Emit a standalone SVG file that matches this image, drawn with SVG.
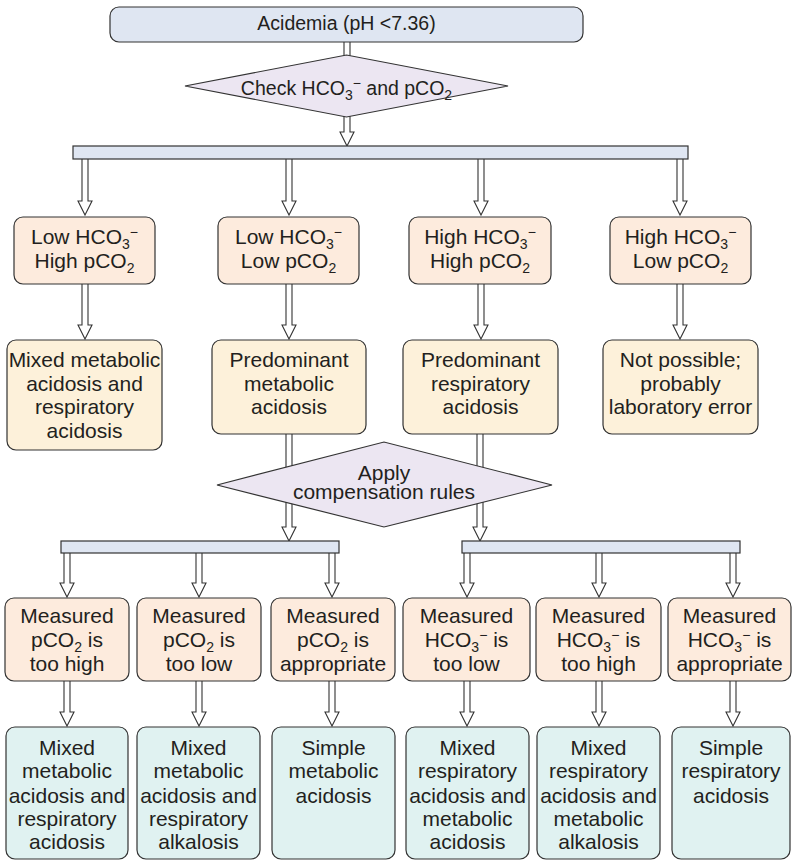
<svg xmlns="http://www.w3.org/2000/svg" width="792" height="861" viewBox="0 0 792 861">
<style>
text{font-family:"Liberation Sans",Arial,sans-serif;font-size:21px;fill:#231f20;text-anchor:middle}
.t19{font-size:19.5px}
.s{font-size:14px}
.bar{fill:#dfe6f2;stroke:#333;stroke-width:1.2}
.dia{fill:#ece6f2;stroke:#333;stroke-width:1.2}
.pe{fill:#fdebdd;stroke:#333;stroke-width:1.2}
.ye{fill:#fdf1da;stroke:#333;stroke-width:1.2}
.cy{fill:#e0f2f1;stroke:#333;stroke-width:1.2}
.ar{fill:#fff;stroke:#333;stroke-width:1.1}
</style>
<g id="connectors">
<path class="ar" d="M344,42V75H350V42"/>
<path class="ar" d="M344,105V132H340L347,146L354,132H350V105"/>
<path class="ar" d="M82,159V201H78L85,215L92,201H88V159"/>
<path class="ar" d="M286,159V201H282L289,215L296,201H292V159"/>
<path class="ar" d="M478,159V201H474L481,215L488,201H484V159"/>
<path class="ar" d="M677,159V201H673L680,215L687,201H683V159"/>
<path class="ar" d="M82,284V325H78L85,339L92,325H88V284"/>
<path class="ar" d="M286,284V325H282L289,339L296,325H292V284"/>
<path class="ar" d="M478,284V325H474L481,339L488,325H484V284"/>
<path class="ar" d="M677,284V325H673L680,339L687,325H683V284"/>
<path class="ar" d="M286,434V527H282L289,541L296,527H292V434"/>
<path class="ar" d="M477,434V527H473L480,541L487,527H483V434"/>
<path class="ar" d="M64,553V583H60L67,597L74,583H70V553"/>
<path class="ar" d="M196,553V583H192L199,597L206,583H202V553"/>
<path class="ar" d="M329,553V583H325L332,597L339,583H335V553"/>
<path class="ar" d="M464,553V583H460L467,597L474,583H470V553"/>
<path class="ar" d="M596,553V583H592L599,597L606,583H602V553"/>
<path class="ar" d="M730,553V583H726L733,597L740,583H736V553"/>
<path class="ar" d="M64,681V712H60L67,726L74,712H70V681"/>
<path class="ar" d="M196,681V712H192L199,726L206,712H202V681"/>
<path class="ar" d="M329,681V712H325L332,726L339,712H335V681"/>
<path class="ar" d="M464,681V712H460L467,726L474,712H470V681"/>
<path class="ar" d="M596,681V712H592L599,726L606,712H602V681"/>
<path class="ar" d="M730,681V712H726L733,726L740,712H736V681"/>
</g>
<g id="acidemia"><rect class="bar" x="110" y="7" width="473" height="35" rx="9"/><text class="t19" x="346.5" y="30">Acidemia (pH &lt;7.36)</text></g>
<g id="check"><polygon class="dia" points="185,86 346.5,55 508,86 346.5,117"/><text class="t19" x="346.5" y="95">Check HCO<tspan class="s" dy="5">3</tspan><tspan class="s" dy="-12">−</tspan><tspan dy="7"> and pCO</tspan><tspan class="s" dy="5">2</tspan></text></g>
<g id="bar1"><rect class="bar" x="73" y="146" width="615" height="13"/></g>
<g id="lowlow-hi"><rect class="pe" x="14" y="217" width="141" height="67" rx="9"/><text x="84.5" y="244">Low HCO<tspan class="s" dy="5">3</tspan><tspan class="s" dy="-12">−</tspan></text><text x="84.5" y="268">High pCO<tspan class="s" dy="5">2</tspan></text></g>
<g id="low-low"><rect class="pe" x="218" y="217" width="141" height="67" rx="9"/><text x="288.5" y="244">Low HCO<tspan class="s" dy="5">3</tspan><tspan class="s" dy="-12">−</tspan></text><text x="288.5" y="268">Low pCO<tspan class="s" dy="5">2</tspan></text></g>
<g id="high-high"><rect class="pe" x="409" y="217" width="142" height="67" rx="9"/><text x="480" y="244">High HCO<tspan class="s" dy="5">3</tspan><tspan class="s" dy="-12">−</tspan></text><text x="480" y="268">High pCO<tspan class="s" dy="5">2</tspan></text></g>
<g id="high-low"><rect class="pe" x="610" y="217" width="141" height="67" rx="9"/><text x="680.5" y="244">High HCO<tspan class="s" dy="5">3</tspan><tspan class="s" dy="-12">−</tspan></text><text x="680.5" y="268">Low pCO<tspan class="s" dy="5">2</tspan></text></g>
<g id="mixed1"><rect class="ye" x="7" y="340" width="155" height="110" rx="9"/><text x="84.5" y="367">Mixed metabolic</text><text x="84.5" y="391">acidosis and</text><text x="84.5" y="414">respiratory</text><text x="84.5" y="438">acidosis</text></g>
<g id="predmet"><rect class="ye" x="212" y="340" width="154" height="94" rx="9"/><text x="289" y="367">Predominant</text><text x="289" y="391">metabolic</text><text x="289" y="414">acidosis</text></g>
<g id="predresp"><rect class="ye" x="403" y="340" width="155" height="94" rx="9"/><text x="480.5" y="367">Predominant</text><text x="480.5" y="391">respiratory</text><text x="480.5" y="414">acidosis</text></g>
<g id="notpossible"><rect class="ye" x="603" y="340" width="155" height="94" rx="9"/><text x="680.5" y="367">Not possible;</text><text x="680.5" y="391">probably</text><text x="680.5" y="414">laboratory error</text></g>
<g id="apply"><polygon class="dia" points="217,485 384,442 552,485 384,527"/><text x="384" y="480">Apply</text><text x="384" y="499">compensation rules</text></g>
<g id="bar2"><rect class="bar" x="61" y="541" width="278" height="12"/></g>
<g id="bar3"><rect class="bar" x="462" y="541" width="278" height="12"/></g>
<g id="p-high"><rect class="pe" x="5" y="598" width="124" height="83" rx="9"/><text x="67" y="623">Measured</text><text x="67" y="647">pCO<tspan class="s" dy="5">2</tspan><tspan dy="-5"> is</tspan></text><text x="67" y="671">too high</text></g>
<g id="p-low"><rect class="pe" x="137" y="598" width="124" height="83" rx="9"/><text x="199" y="623">Measured</text><text x="199" y="647">pCO<tspan class="s" dy="5">2</tspan><tspan dy="-5"> is</tspan></text><text x="199" y="671">too low</text></g>
<g id="p-ok"><rect class="pe" x="271" y="598" width="124" height="83" rx="9"/><text x="333" y="623">Measured</text><text x="333" y="647">pCO<tspan class="s" dy="5">2</tspan><tspan dy="-5"> is</tspan></text><text x="333" y="671">appropriate</text></g>
<g id="h-low"><rect class="pe" x="403" y="598" width="127" height="83" rx="9"/><text x="466.5" y="623">Measured</text><text x="466.5" y="647">HCO<tspan class="s" dy="5">3</tspan><tspan class="s" dy="-12">−</tspan><tspan dy="7"> is</tspan></text><text x="466.5" y="671">too low</text></g>
<g id="h-high"><rect class="pe" x="536" y="598" width="125" height="83" rx="9"/><text x="598.5" y="623">Measured</text><text x="598.5" y="647">HCO<tspan class="s" dy="5">3</tspan><tspan class="s" dy="-12">−</tspan><tspan dy="7"> is</tspan></text><text x="598.5" y="671">too high</text></g>
<g id="h-ok"><rect class="pe" x="668" y="598" width="123" height="83" rx="9"/><text x="729.5" y="623">Measured</text><text x="729.5" y="647">HCO<tspan class="s" dy="5">3</tspan><tspan class="s" dy="-12">−</tspan><tspan dy="7"> is</tspan></text><text x="729.5" y="671">appropriate</text></g>
<g id="r1"><rect class="cy" x="6" y="727" width="122" height="132" rx="9"/><text x="67" y="755">Mixed</text><text x="67" y="778">metabolic</text><text x="67" y="803">acidosis and</text><text x="67" y="826">respiratory</text><text x="67" y="849">acidosis</text></g>
<g id="r2"><rect class="cy" x="137" y="727" width="123" height="132" rx="9"/><text x="198.5" y="755">Mixed</text><text x="198.5" y="778">metabolic</text><text x="198.5" y="803">acidosis and</text><text x="198.5" y="826">respiratory</text><text x="198.5" y="849">alkalosis</text></g>
<g id="r3"><rect class="cy" x="272" y="727" width="123" height="132" rx="9"/><text x="333.5" y="755">Simple</text><text x="333.5" y="778">metabolic</text><text x="333.5" y="803">acidosis</text></g>
<g id="r4"><rect class="cy" x="406" y="727" width="123" height="132" rx="9"/><text x="467.5" y="755">Mixed</text><text x="467.5" y="778">respiratory</text><text x="467.5" y="803">acidosis and</text><text x="467.5" y="826">metabolic</text><text x="467.5" y="849">acidosis</text></g>
<g id="r5"><rect class="cy" x="537" y="727" width="123" height="132" rx="9"/><text x="598.5" y="755">Mixed</text><text x="598.5" y="778">respiratory</text><text x="598.5" y="803">acidosis and</text><text x="598.5" y="826">metabolic</text><text x="598.5" y="849">alkalosis</text></g>
<g id="r6"><rect class="cy" x="672" y="727" width="118" height="132" rx="9"/><text x="731" y="755">Simple</text><text x="731" y="778">respiratory</text><text x="731" y="803">acidosis</text></g>
</svg>
